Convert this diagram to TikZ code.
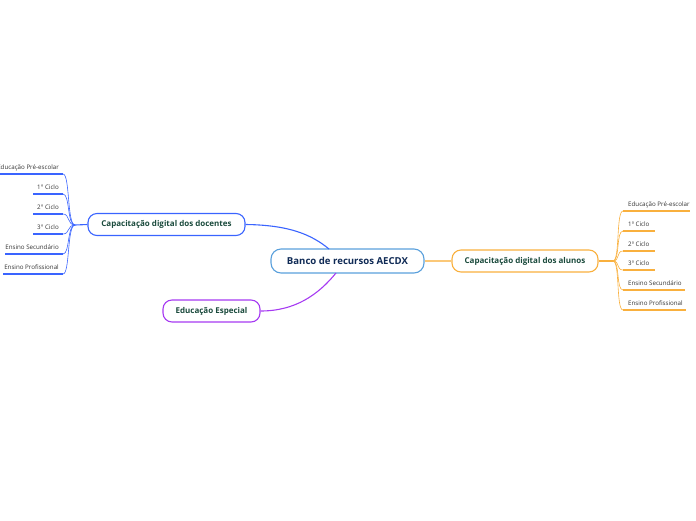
\documentclass[tikz,border=0pt]{standalone}
\usepackage{fontspec}
\setmainfont{Open Sans}
\begin{document}
\begin{tikzpicture}[x=1pt,y=-1pt,
  central/.style={draw=cblue,line width=1.1pt,rounded corners=10pt,fill=white,
    minimum width=153pt,minimum height=24pt,inner sep=0pt,
    font=\fontsize{9.6}{11}\selectfont\bfseries,text=navy},
  mainnode/.style={line width=1.1pt,rounded corners=9pt,fill=white,inner sep=0pt,
    minimum height=22pt,font=\fontsize{8}{9}\selectfont\bfseries,text=dgreen},
  leaftxt/.style={inner sep=0pt,font=\fontsize{6.2}{7}\selectfont,text=black!80},
  uline/.style={line width=1.6pt},
  twig/.style={line width=0.6pt},
  branch/.style={line width=1.1pt}]
\definecolor{cblue}{HTML}{5AA0DC}
\definecolor{navy}{HTML}{0F2A55}
\definecolor{dgreen}{HTML}{1A4A3C}
\definecolor{lblue}{HTML}{3A64FF}
\definecolor{purp}{HTML}{A63AF2}
\definecolor{orng}{HTML}{F9B03E}
\useasboundingbox (0,0) rectangle (696,520);

\node[central] (c) at (347.5,261) {Banco de recursos AECDX};
\node[mainnode,draw=lblue,minimum width=157pt] (doc) at (166.5,224.5) {Capacitação digital dos docentes};
\node[mainnode,draw=purp,minimum width=97pt] (esp) at (211.5,311) {Educação Especial};
\node[mainnode,draw=orng,minimum width=146pt] (alu) at (525,261) {Capacitação digital dos alunos};

% main connectors
\coordinate (ctop) at (329,249);
\coordinate (cbot) at (336,273);
\draw[branch,lblue] (doc.east) .. controls (290,225) and (312,235) .. (ctop);
\draw[branch,purp] (esp.east) .. controls (295,311) and (318,295) .. (cbot);
\draw[branch,orng!70] (c.east) -- (alu.west);

% left leaves
\coordinate (lj) at (75,225);
\draw[branch,lblue] (doc.west) -- (lj);
\foreach \n/\x/\y/\t in {l1/0/174/Educação Pré-escolar, l2/33/194/1° Ciclo, l3/33/214/2° Ciclo, l4/33/234/3° Ciclo, l5/5/254/Ensino Secundário, l6/3/274/Ensino Profissional}{
  \coordinate (\n s) at (\x,\y);
  \coordinate (\n e) at (63,\y);
  \draw[uline,lblue] (\n s) -- (\n e);
  \draw[twig,lblue] (lj) .. controls (67,225) and (70,\y) .. (\n e);
  \node[leaftxt,anchor=base east] (\n) at (59,\y-5) {\t};
}

% right leaves
\coordinate (rj) at (613,261);
\draw[branch,orng] (alu.east) -- (rj);
\foreach \n/\x/\y/\t in {r1/690/211/Educação Pré-escolar, r2/655/231/1º Ciclo, r3/655/251/2º Ciclo, r4/655/270/3º Ciclo, r5/685/290/Ensino Secundário, r6/686/310/Ensino Profissional}{
  \coordinate (\n s) at (623,\y);
  \coordinate (\n e) at (\x,\y);
  \draw[uline,orng] (\n s) -- (\n e);
  \draw[twig,orng] (rj) .. controls (620,261) and (616,\y) .. (\n s);
  \node[leaftxt,anchor=base west] (\n) at (628,\y-5) {\t};
}
\end{tikzpicture}
\end{document}
